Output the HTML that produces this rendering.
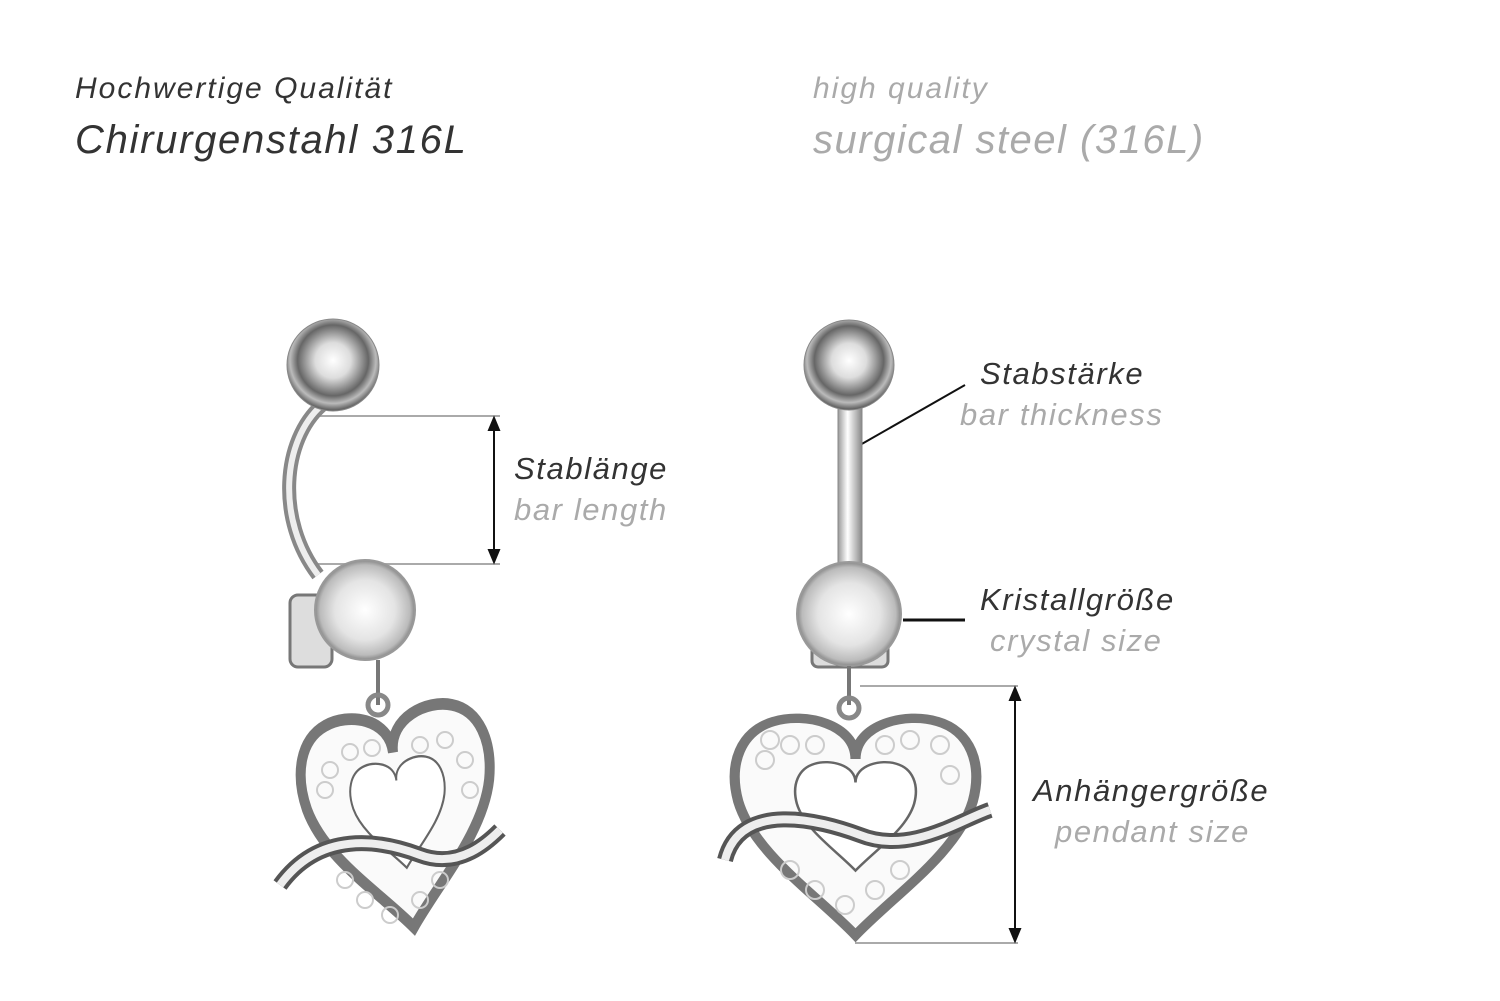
<!DOCTYPE html>
<html><head><meta charset="utf-8"><style>
html,body{margin:0;padding:0;background:#fff;}
body{width:1500px;height:1001px;overflow:hidden;position:relative;font-family:"Liberation Sans",sans-serif;font-style:italic;}
.t{position:absolute;white-space:nowrap;line-height:1;letter-spacing:1.6px}
.d{color:#333}.g{color:#aaa}
</style></head><body>
<div class="t d" style="left:75px;top:74px;font-size:30px;letter-spacing:2px">Hochwertige Qualität</div>
<div class="t d" style="left:75px;top:120px;font-size:40px;letter-spacing:1.7px">Chirurgenstahl 316L</div>
<div class="t g" style="left:813px;top:74px;font-size:30px;letter-spacing:2px">high quality</div>
<div class="t g" style="left:813px;top:120px;font-size:40px;letter-spacing:1.5px">surgical steel (316L)</div>

<div class="t d" style="left:514px;top:453px;font-size:31px">Stablänge</div>
<div class="t g" style="left:514px;top:494px;font-size:31px">bar length</div>
<div class="t d" style="left:980px;top:358px;font-size:31px">Stabstärke</div>
<div class="t g" style="left:960px;top:399px;font-size:31px">bar thickness</div>
<div class="t d" style="left:980px;top:584px;font-size:31px">Kristallgröße</div>
<div class="t g" style="left:990px;top:625px;font-size:31px">crystal size</div>
<div class="t d" style="left:1033px;top:775px;font-size:31px">Anhängergröße</div>
<div class="t g" style="left:1055px;top:816px;font-size:31px">pendant size</div>

<svg width="1500" height="1001" style="position:absolute;left:0;top:0" xmlns="http://www.w3.org/2000/svg">
<defs>
<radialGradient id="ball" cx="0.5" cy="0.45" r="0.55">
<stop offset="0" stop-color="#fff"/><stop offset="0.35" stop-color="#ddd"/><stop offset="0.7" stop-color="#666"/><stop offset="0.85" stop-color="#bbb"/><stop offset="1" stop-color="#555"/></radialGradient>
<radialGradient id="cry" cx="0.5" cy="0.5" r="0.5">
<stop offset="0" stop-color="#fff"/><stop offset="0.6" stop-color="#e4e4e4"/><stop offset="0.9" stop-color="#bbb"/><stop offset="1" stop-color="#888"/></radialGradient>
<linearGradient id="bar" x1="0" x2="1"><stop offset="0" stop-color="#999"/><stop offset="0.4" stop-color="#fff"/><stop offset="1" stop-color="#888"/></linearGradient>
<path id="heart" d="M50 20 C50 5 30 0 18 4 C5 8 0 22 4 38 C10 60 35 78 50 95 C65 78 90 60 96 38 C100 22 95 8 82 4 C70 0 50 5 50 20 Z"/>
</defs>
<g stroke="#aaa" stroke-width="2"><line x1="318" y1="416" x2="500" y2="416"/><line x1="318" y1="564" x2="500" y2="564"/>
<line x1="860" y1="686" x2="1018" y2="686"/><line x1="855" y1="943" x2="1018" y2="943"/></g>
<g stroke="#111" stroke-width="2" fill="#111">
<line x1="494" y1="424" x2="494" y2="556"/><polygon points="494,418 489,430 499,430"/><polygon points="494,562 489,550 499,550"/>
<line x1="1015" y1="694" x2="1015" y2="935"/><polygon points="1015,688 1010,700 1020,700"/><polygon points="1015,941 1010,929 1020,929"/>
<line x1="860" y1="445" x2="965" y2="385"/><line x1="903" y1="620" x2="965" y2="620" stroke-width="3"/></g>

<path d="M322 405 C282 440 276 520 318 575" stroke="#888" stroke-width="14" fill="none"/>
<path d="M322 405 C282 440 276 520 318 575" stroke="#eee" stroke-width="6" fill="none"/>
<circle cx="333" cy="365" r="46" fill="url(#ball)" stroke="#888"/>
<rect x="290" y="595" width="42" height="72" rx="8" fill="#ddd" stroke="#777" stroke-width="3"/>
<circle cx="365" cy="610" r="50" fill="url(#cry)" stroke="#999" stroke-width="2"/>
<line x1="378" y1="660" x2="378" y2="705" stroke="#777" stroke-width="4"/>
<circle cx="378" cy="705" r="10" fill="none" stroke="#888" stroke-width="5"/>
<g transform="translate(300,705) scale(2.0,2.35) rotate(-8 50 45)">
<use href="#heart" fill="#fafafa" stroke="#777" stroke-width="5"/>
<use href="#heart" fill="#fff" stroke="#666" stroke-width="2" transform="translate(25,22) scale(0.5)"/>
</g>
<path d="M280 885 C320 830 380 840 420 855 C460 870 490 840 500 830" stroke="#555" stroke-width="16" fill="none"/>
<path d="M280 885 C320 830 380 840 420 855 C460 870 490 840 500 830" stroke="#eee" stroke-width="8" fill="none"/>
<g fill="none" stroke="#ccc" stroke-width="2">
<circle cx="325" cy="790" r="8"/><circle cx="330" cy="770" r="8"/><circle cx="350" cy="752" r="8"/><circle cx="372" cy="748" r="8"/><circle cx="420" cy="745" r="8"/><circle cx="445" cy="740" r="8"/><circle cx="465" cy="760" r="8"/><circle cx="470" cy="790" r="8"/><circle cx="345" cy="880" r="8"/><circle cx="365" cy="900" r="8"/><circle cx="390" cy="915" r="8"/><circle cx="420" cy="900" r="8"/><circle cx="440" cy="880" r="8"/></g>

<rect x="838" y="400" width="24" height="190" fill="url(#bar)" stroke="#888"/>
<circle cx="849" cy="365" r="45" fill="url(#ball)" stroke="#888"/>
<rect x="812" y="615" width="76" height="52" rx="6" fill="#ddd" stroke="#777" stroke-width="3"/>
<circle cx="849" cy="614" r="52" fill="url(#cry)" stroke="#999" stroke-width="2"/>
<line x1="849" y1="666" x2="849" y2="705" stroke="#777" stroke-width="4"/>
<circle cx="849" cy="708" r="10" fill="none" stroke="#888" stroke-width="5"/>
<g transform="translate(728,712) scale(2.55,2.35)">
<use href="#heart" fill="#fafafa" stroke="#777" stroke-width="4"/>
<use href="#heart" fill="#fff" stroke="#666" stroke-width="2" transform="translate(25,20) scale(0.5)"/>
</g>
<path d="M725 860 C740 800 820 820 860 835 C910 855 960 820 990 810" stroke="#555" stroke-width="16" fill="none"/>
<path d="M725 860 C740 800 820 820 860 835 C910 855 960 820 990 810" stroke="#eee" stroke-width="8" fill="none"/>
<g fill="none" stroke="#ccc" stroke-width="2">
<circle cx="765" cy="760" r="9"/><circle cx="770" cy="740" r="9"/><circle cx="790" cy="745" r="9"/><circle cx="815" cy="745" r="9"/><circle cx="885" cy="745" r="9"/><circle cx="910" cy="740" r="9"/><circle cx="940" cy="745" r="9"/><circle cx="950" cy="775" r="9"/><circle cx="790" cy="870" r="9"/><circle cx="815" cy="890" r="9"/><circle cx="845" cy="905" r="9"/><circle cx="875" cy="890" r="9"/><circle cx="900" cy="870" r="9"/></g>
</svg>
</body></html>
